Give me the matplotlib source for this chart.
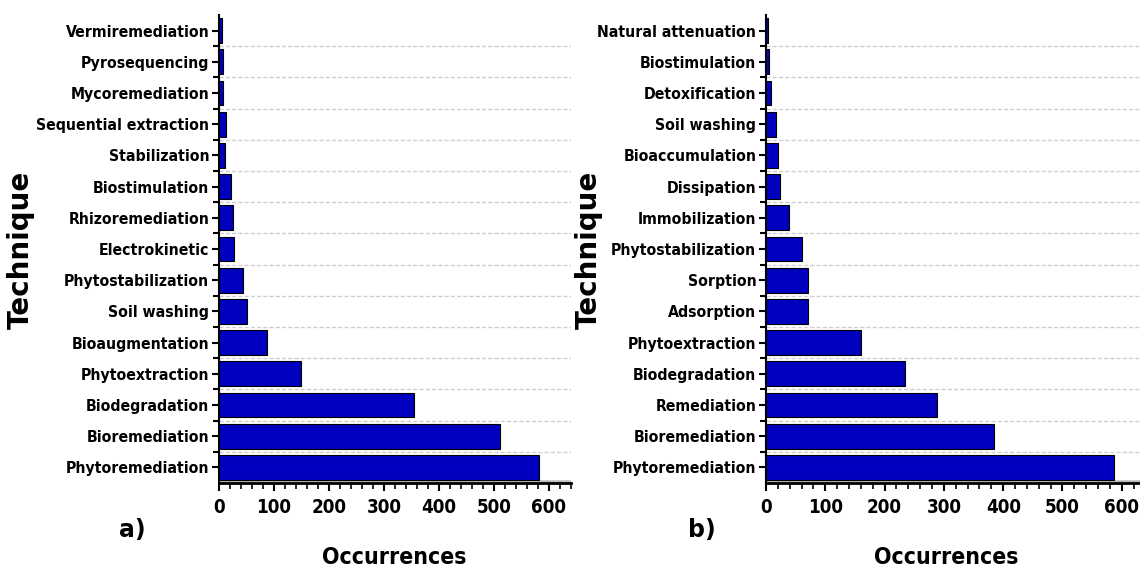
import matplotlib
matplotlib.use("Agg")
import matplotlib.pyplot as plt
from matplotlib import font_manager
from matplotlib.font_manager import FontProperties
from matplotlib.ticker import MultipleLocator, FixedLocator

left_categories = ["Vermiremediation", "Pyrosequencing", "Mycoremediation", "Sequential extraction",
                   "Stabilization", "Biostimulation", "Rhizoremediation", "Electrokinetic",
                   "Phytostabilization", "Soil washing", "Bioaugmentation", "Phytoextraction",
                   "Biodegradation", "Bioremediation", "Phytoremediation"]
left_values = [6, 8, 8, 12, 11, 21, 25, 27, 44, 51, 87, 149, 354, 510, 581]

right_categories = ["Natural attenuation", "Biostimulation", "Detoxification", "Soil washing",
                    "Bioaccumulation", "Dissipation", "Immobilization", "Phytostabilization",
                    "Sorption", "Adsorption", "Phytoextraction", "Biodegradation",
                    "Remediation", "Bioremediation", "Phytoremediation"]
right_values = [4, 5, 8, 17, 20, 24, 38, 60, 71, 71, 160, 234, 288, 385, 587]

xticks = [0, 100, 200, 300, 400, 500, 600]

# find a narrow bold font if one is installed
narrow_file = None
for pref in ("liberationsansnarrow-bold", "arialnb", "dejavusanscondensed-bold",
             "robotocondensed-bold", "opensans_condensed-bold", "opensanscondensed-bold"):
    for f in font_manager.fontManager.ttflist:
        base = f.fname.lower().replace(" ", "").split("/")[-1]
        if base.startswith(pref) and "oblique" not in base and "italic" not in base:
            narrow_file = f.fname
            break
    if narrow_file:
        break

def nfont(size):
    if narrow_file:
        return FontProperties(fname=narrow_file, size=size)
    return FontProperties(family="Liberation Sans", weight="bold", size=size * 0.95)

W, H = 1140, 575
fig = plt.figure(figsize=(W / 100, H / 100), dpi=100)

BAR = "#0000BE"

def panel(px_left, px_right, cats, vals, tag, tag_x, tech_x, occ_x):
    ax = fig.add_axes([px_left / W, 1 - 483 / H, (px_right - px_left) / W, (483 - 15) / H])
    n = len(cats)
    pos = list(range(n - 1, -1, -1))
    ax.barh(pos, vals, height=0.8, color=BAR, edgecolor="black", linewidth=0.8, zorder=3)
    ax.set_ylim(-0.5, n - 0.5)
    ax.set_xlim(0, 640)
    ax.set_yticks(pos)
    ax.set_yticklabels(cats, fontproperties=nfont(11.3))
    ax.yaxis.set_minor_locator(FixedLocator([p + 0.5 for p in range(n - 1)]))
    ax.set_xticks(xticks)
    ax.set_xticklabels([str(t) for t in xticks], fontproperties=nfont(13.5))
    ax.xaxis.set_minor_locator(MultipleLocator(20))
    for p in range(n - 1):
        ax.axhline(p + 0.5, color="#CFCFCF", linestyle=(0, (3, 1.5)), linewidth=1.0, zorder=1)
    ax.axhline(-0.5, color="#BBBBBB", linewidth=4, zorder=0)
    for s in ("top", "right"):
        ax.spines[s].set_visible(False)
    ax.spines["left"].set_linewidth(1.5)
    ax.spines["bottom"].set_linewidth(2.0)
    ax.tick_params(axis="y", which="major", length=5, width=1.5, pad=2)
    ax.tick_params(axis="y", which="minor", length=4, width=1.5)
    ax.tick_params(axis="x", which="major", length=6, width=1.5, pad=5)
    ax.tick_params(axis="x", which="minor", length=4, width=1.2)
    fig.text(tech_x / W, 1 - 250 / H, "Technique", rotation=90, ha="center", va="center",
             fontfamily="DejaVu Sans", fontweight="bold", fontsize=20)
    fig.text(occ_x / W, 1 - 558 / H, "Occurrences", ha="center", va="center",
             fontproperties=nfont(16.5))
    fig.text(tag_x / W, 1 - 530 / H, tag, ha="center", va="center",
             fontfamily="DejaVu Sans", fontweight="bold", fontsize=17)
    return ax

panel(219, 571, left_categories, left_values, "a)", 132, 21, 394)
panel(766, 766 + 640 * 0.593, right_categories, right_values, "b)", 702, 589, 946)

fig.savefig("out.png", dpi=100)
